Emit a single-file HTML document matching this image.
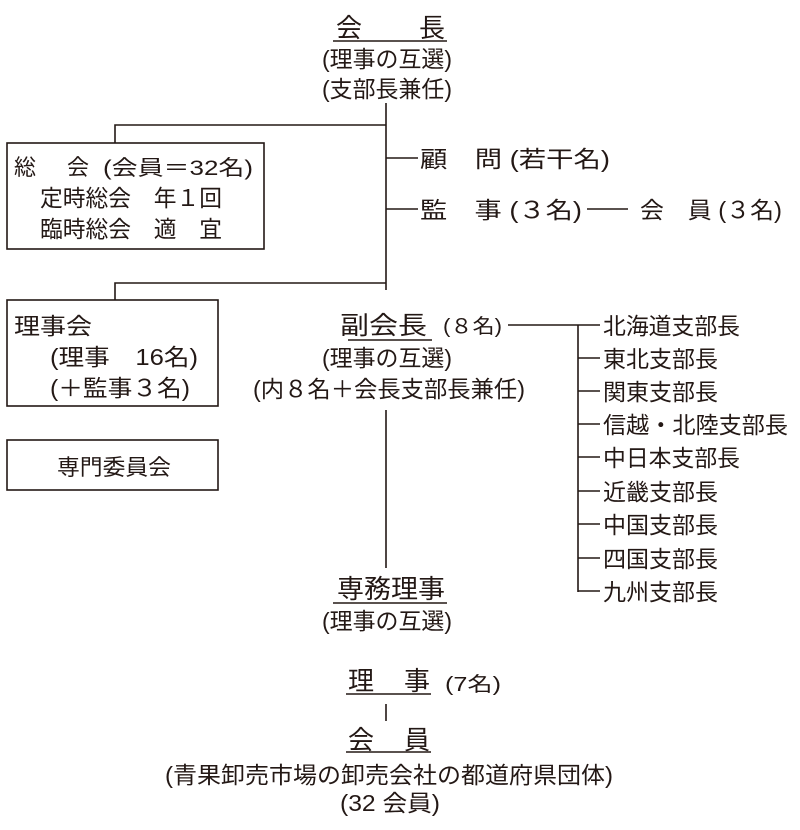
<!DOCTYPE html>
<html><head><meta charset="utf-8"><style>
html,body{margin:0;padding:0;background:#fff;width:800px;height:830px;overflow:hidden}
svg text{font-family:"Liberation Sans","Noto Sans CJK JP",sans-serif;fill:#231815}
</style></head><body>
<svg width="800" height="830" viewBox="0 0 800 830" xmlns="http://www.w3.org/2000/svg">
<g stroke="#231815" stroke-width="1.6" fill="none">
<line x1="333" y1="41" x2="447" y2="41"/>
<line x1="386" y1="103" x2="386" y2="290"/>
<polyline points="386,125 115,125 115,143"/>
<rect x="7" y="143" width="257" height="106"/>
<line x1="386" y1="158" x2="418" y2="158"/>
<line x1="386" y1="209" x2="418" y2="209"/>
<line x1="587" y1="209" x2="628" y2="209"/>
<polyline points="386,283 115,283 115,300"/>
<rect x="7" y="300" width="211" height="106"/>
<rect x="7" y="440" width="211" height="50"/>
<line x1="348" y1="340" x2="432" y2="340"/>
<line x1="508" y1="325" x2="600" y2="325"/>
<line x1="578" y1="325" x2="578" y2="592"/>
<line x1="578" y1="358" x2="600" y2="358"/>
<line x1="578" y1="391" x2="600" y2="391"/>
<line x1="578" y1="424" x2="600" y2="424"/>
<line x1="578" y1="457" x2="600" y2="457"/>
<line x1="578" y1="491" x2="600" y2="491"/>
<line x1="578" y1="524" x2="600" y2="524"/>
<line x1="578" y1="558" x2="600" y2="558"/>
<line x1="578" y1="591" x2="600" y2="591"/>
<line x1="386" y1="410" x2="386" y2="568"/>
<line x1="333" y1="603" x2="447" y2="603"/>
<line x1="346" y1="694" x2="431" y2="694"/>
<line x1="386" y1="704" x2="386" y2="721"/>
<line x1="346" y1="752" x2="431" y2="752"/>
</g>
<g font-size="23">
<text x="336" y="37" font-size="26">会</text><text x="419" y="37" font-size="26">長</text>
<text x="322" y="67" textLength="130" lengthAdjust="spacingAndGlyphs">(理事の互選)</text>
<text x="322" y="97" textLength="130" lengthAdjust="spacingAndGlyphs">(支部長兼任)</text>
<text x="14" y="175" font-size="22">総</text><text x="67" y="175" font-size="22">会</text>
<text x="103" y="175" font-size="21" textLength="150" lengthAdjust="spacingAndGlyphs">(会員＝32名)</text>
<text x="40" y="206" textLength="182" lengthAdjust="spacingAndGlyphs">定時総会　年１回</text>
<text x="40" y="237" textLength="182" lengthAdjust="spacingAndGlyphs">臨時総会　適　宜</text>
<text x="420" y="167" textLength="190" lengthAdjust="spacingAndGlyphs">顧　問 (若干名)</text>
<text x="420" y="218" textLength="162" lengthAdjust="spacingAndGlyphs">監　事 (３名)</text>
<text x="640" y="218" textLength="142" lengthAdjust="spacingAndGlyphs">会　員 (３名)</text>
<text x="14" y="334" textLength="78" lengthAdjust="spacingAndGlyphs">理事会</text>
<text x="50" y="365" textLength="148" lengthAdjust="spacingAndGlyphs">(理事　16名)</text>
<text x="50" y="396" textLength="140" lengthAdjust="spacingAndGlyphs">(＋監事３名)</text>
<text x="340" y="334" font-size="25" textLength="87" lengthAdjust="spacingAndGlyphs">副会長</text>
<text x="443" y="333" font-size="20" textLength="59" lengthAdjust="spacingAndGlyphs">(８名)</text>
<text x="322" y="366" textLength="130" lengthAdjust="spacingAndGlyphs">(理事の互選)</text>
<text x="253" y="397" textLength="272" lengthAdjust="spacingAndGlyphs">(内８名＋会長支部長兼任)</text>
<text x="603" y="334" textLength="137" lengthAdjust="spacingAndGlyphs">北海道支部長</text>
<text x="603" y="367" textLength="115" lengthAdjust="spacingAndGlyphs">東北支部長</text>
<text x="603" y="400" textLength="115" lengthAdjust="spacingAndGlyphs">関東支部長</text>
<text x="603" y="433" textLength="185" lengthAdjust="spacingAndGlyphs">信越・北陸支部長</text>
<text x="603" y="466" textLength="137" lengthAdjust="spacingAndGlyphs">中日本支部長</text>
<text x="603" y="500" textLength="115" lengthAdjust="spacingAndGlyphs">近畿支部長</text>
<text x="603" y="533" textLength="115" lengthAdjust="spacingAndGlyphs">中国支部長</text>
<text x="603" y="567" textLength="115" lengthAdjust="spacingAndGlyphs">四国支部長</text>
<text x="603" y="600" textLength="115" lengthAdjust="spacingAndGlyphs">九州支部長</text>
<text x="57" y="475" font-size="22" textLength="114" lengthAdjust="spacingAndGlyphs">専門委員会</text>
<text x="337" y="598" font-size="26" textLength="108" lengthAdjust="spacingAndGlyphs">専務理事</text>
<text x="322" y="629" textLength="130" lengthAdjust="spacingAndGlyphs">(理事の互選)</text>
<text x="348" y="690" font-size="26">理</text><text x="404" y="690" font-size="26">事</text>
<text x="445" y="691" font-size="20" textLength="56" lengthAdjust="spacingAndGlyphs">(7名)</text>
<text x="348" y="749" font-size="26">会</text><text x="404" y="749" font-size="26">員</text>
<text x="165" y="783" textLength="448" lengthAdjust="spacingAndGlyphs">(青果卸売市場の卸売会社の都道府県団体)</text>
<text x="340" y="811" textLength="100" lengthAdjust="spacingAndGlyphs">(32 会員)</text>
</g>
</svg>
</body></html>
